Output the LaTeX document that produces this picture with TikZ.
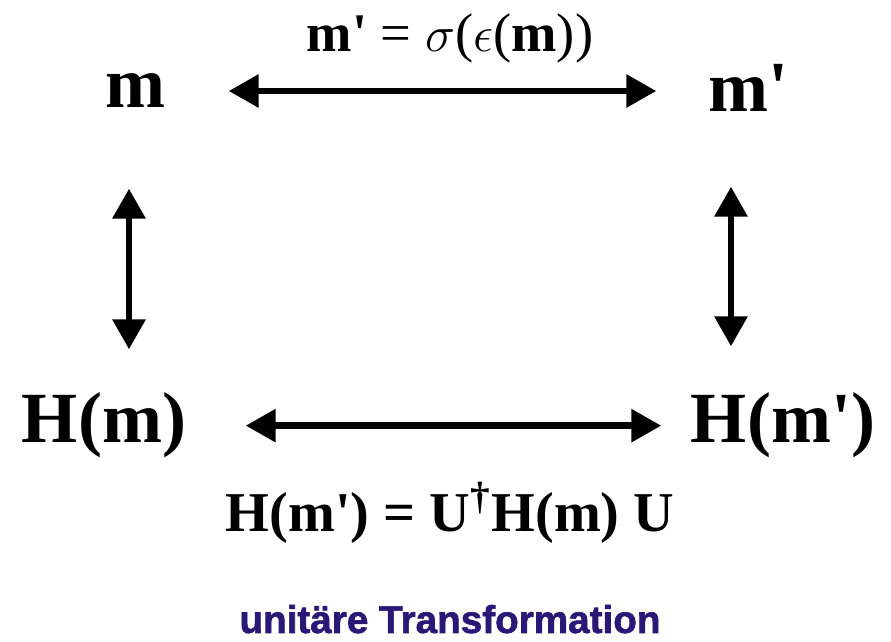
\documentclass[tikz,border=0pt]{standalone}
\usepackage{fontspec}
\setmainfont{Liberation Serif}[Ligatures=TeXOff]
\newfontfamily\heavysans{Liberation Sans Bold}[FakeBold=1.6]
\usetikzlibrary{arrows.meta}
\definecolor{navyblue}{RGB}{42,24,118}

\begin{document}
\begin{tikzpicture}[
    big/.style={font=\fontsize{20.5}{24}\selectfont\bfseries, inner sep=0pt,
      anchor=base},
    eqn/.style={inner sep=0pt, anchor=base},
    dbl/.style={{Triangle[width=3.2mm,length=3mm]}-{Triangle[width=3.2mm,length=3mm]},
      line width=1.8pt}
  ]
  \useasboundingbox (0,0) rectangle (8.91,6.42);

  \node[big] at (1.36,5.34) (m) {m};
  \node[big] at (7.49,5.30) (mp) {m'};
  \node[big] at (1.04,1.99) (hm) {H(m)};
  \node[big] at (7.83,1.99) (hmp) {H(m')};

  \node[eqn, font=\fontsize{15.5}{18}\selectfont] at (4.50,5.90) (sigmalab)
    {\textbf{m'} = $\sigma$($\epsilon$(\textbf{m}))};
  \node[eqn, font=\fontsize{16}{19}\selectfont\bfseries] at (4.50,1.10) (ulab)
    {H(m') = U\textsuperscript{\dag}H(m) U};
  \node[eqn, font=\fontsize{11}{14}\selectfont\heavysans,
    text=navyblue] at (4.50,0.09) (title) {unitäre Transformation};

  \draw[dbl, shorten <=0.62cm, shorten >=0.52cm] (m.east) -- (mp.west |- m.east);
  \draw[dbl, shorten <=0.59cm, shorten >=0.29cm] (hm.east) -- (hmp.west |- hm.east);
  \draw[dbl, shorten <=0.80cm, shorten >=0.43cm]
    ([xshift=-0.7mm]m.south) -- ([xshift=-0.7mm]m.south |- hm.north);
  \draw[dbl, shorten <=0.74cm, shorten >=0.46cm]
    ([xshift=-1.8mm]mp.south) -- ([xshift=-1.8mm]mp.south |- hmp.north);
\end{tikzpicture}
\end{document}
